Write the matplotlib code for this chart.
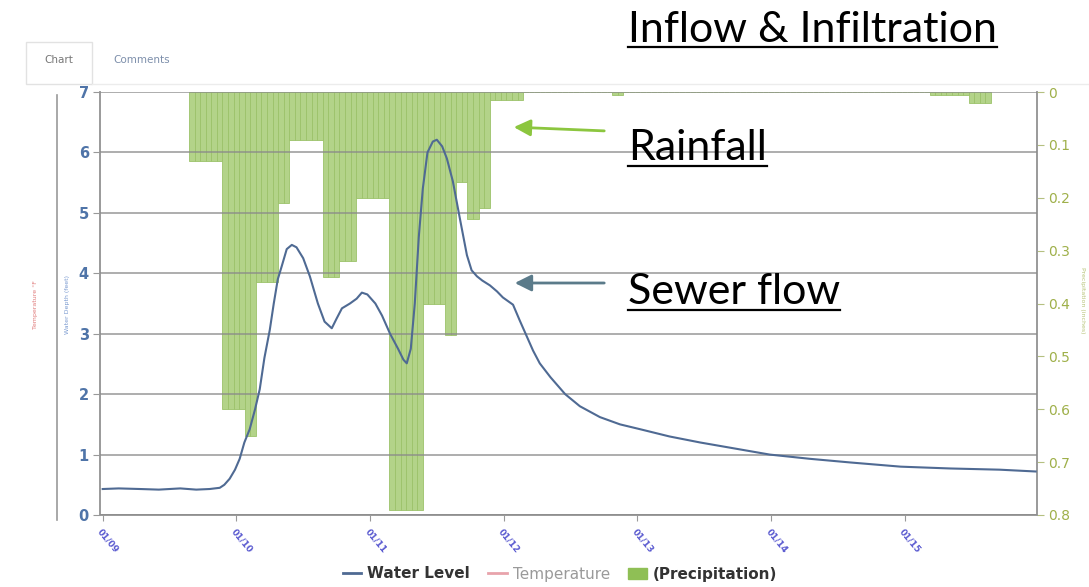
import numpy as np
import matplotlib
matplotlib.use("Agg")
import matplotlib.pyplot as plt
from matplotlib.lines import Line2D
from matplotlib.patches import Patch, Rectangle, FancyArrowPatch

# ---------------- data ----------------
day_labels = ["01/09", "01/10", "01/11", "01/12", "01/13", "01/14", "01/15"]

# water level (feet) vs time in days since 01/09 00:00
wl_day = [0.00, 0.12, 0.28, 0.42, 0.58, 0.70, 0.80, 0.876, 0.91, 0.95, 0.99,
          1.025, 1.06, 1.10, 1.14, 1.175, 1.21, 1.25, 1.28, 1.31, 1.34,
          1.377, 1.415, 1.45, 1.50, 1.55, 1.61, 1.66, 1.714, 1.75, 1.79,
          1.85, 1.90, 1.939, 1.98, 2.04, 2.09, 2.15, 2.21, 2.25, 2.275,
          2.305, 2.335, 2.365, 2.395, 2.43, 2.47, 2.50, 2.54, 2.575, 2.62,
          2.672, 2.725, 2.76, 2.80, 2.84, 2.897, 2.95, 2.994, 3.07, 3.12,
          3.174, 3.22, 3.27, 3.35, 3.46, 3.57, 3.72, 3.87, 4.02, 4.24,
          4.47, 4.73, 4.99, 5.29, 5.59, 5.97, 6.34, 6.71, 6.98]
wl_ft = [0.43, 0.44, 0.43, 0.42, 0.44, 0.42, 0.43, 0.45, 0.50, 0.60, 0.75,
         0.93, 1.20, 1.42, 1.75, 2.08, 2.60, 3.06, 3.50, 3.90, 4.12,
         4.40, 4.47, 4.43, 4.25, 3.95, 3.50, 3.20, 3.09, 3.25, 3.42,
         3.50, 3.58, 3.68, 3.65, 3.50, 3.30, 3.00, 2.75, 2.57, 2.51,
         2.75, 3.50, 4.60, 5.40, 6.00, 6.18, 6.21, 6.10, 5.90, 5.52,
         4.91, 4.30, 4.05, 3.95, 3.88, 3.80, 3.70, 3.60, 3.48, 3.22,
         2.95, 2.72, 2.51, 2.28, 2.00, 1.80, 1.62, 1.50, 1.42, 1.30,
         1.20, 1.10, 1.00, 0.93, 0.87, 0.80, 0.77, 0.75, 0.72]

# hourly precipitation (inches), first bar starts at hour 15.5 of 01/09
rain_start_hour = 15.5
rain_in = [0.13, 0.13, 0.13, 0.13, 0.13, 0.13,
           0.60, 0.60, 0.60, 0.60, 0.65, 0.65,
           0.36, 0.36, 0.36, 0.36, 0.21, 0.21,
           0.09, 0.09, 0.09, 0.09, 0.09, 0.09,
           0.35, 0.35, 0.35, 0.32, 0.32, 0.32,
           0.20, 0.20, 0.20, 0.20, 0.20, 0.20,
           0.79, 0.79, 0.79, 0.79, 0.79, 0.79,
           0.40, 0.40, 0.40, 0.40, 0.46, 0.46,
           0.17, 0.17, 0.24, 0.24, 0.22, 0.22,
           0.015, 0.015, 0.015, 0.015, 0.015, 0.015,
           0, 0, 0, 0, 0, 0, 0, 0, 0, 0, 0, 0, 0, 0, 0, 0,
           0.006, 0.006,
           0, 0, 0, 0, 0, 0, 0, 0, 0, 0, 0, 0, 0, 0, 0, 0, 0, 0, 0, 0,
           0, 0, 0, 0, 0, 0, 0, 0, 0, 0, 0, 0, 0, 0, 0, 0, 0, 0, 0, 0,
           0, 0, 0, 0, 0, 0, 0, 0, 0, 0, 0, 0, 0, 0, 0,
           0.006, 0.006, 0.006, 0.006, 0.006, 0.006, 0.006,
           0.02, 0.02, 0.02, 0.02]

left_ticks = [0, 1, 2, 3, 4, 5, 6, 7]
right_ticks = [0, 0.1, 0.2, 0.3, 0.4, 0.5, 0.6, 0.7, 0.8]
right_tick_labels = ["0", "0.1", "0.2", "0.3", "0.4", "0.5", "0.6", "0.7", "0.8"]

# ---------------- figure ----------------
W, H = 1089, 587
fig = plt.figure(figsize=(W / 100, H / 100), dpi=100)
fig.patch.set_facecolor("white")

def fx(px):
    return px / W

def fy(py):
    return 1 - py / H

L, R, T, B = 100, 1037, 92, 515
ax = fig.add_axes([fx(L), fy(B), fx(R) - fx(L), fy(T) - fy(B)])
ax2 = ax.twinx()
ax.set_zorder(ax2.get_zorder() + 1)
ax.patch.set_visible(False)

# precipitation bars (hang from top on inverted axis)
rain_x = (rain_start_hour + np.arange(len(rain_in))) / 24.0
ax2.bar(rain_x, rain_in, width=1 / 24.0, align="edge", bottom=0,
        color="#b3d389", edgecolor="#9cc26a", linewidth=0.6, zorder=2)
ax2.set_ylim(0.8, 0)
ax2.set_yticks(right_ticks)
ax2.set_yticklabels(right_tick_labels)
ax2.tick_params(axis="y", colors="#b5c080", labelcolor="#9fb04a",
                labelsize=10, length=5, pad=3)

# water level line
ax.plot(wl_day, wl_ft, color="#4f6a93", lw=1.5, zorder=5)
ax.set_xlim(-0.02, 6.99)
ax.set_ylim(0, 7)
ax.set_yticks(left_ticks)
ax.tick_params(axis="y", colors="#999999", labelcolor="#4f74a8",
               labelsize=10.5, length=5, pad=3)
for t in ax.get_yticklabels():
    t.set_fontweight("bold")
ax.set_xticks(range(len(day_labels)))
ax.set_xticklabels(day_labels, rotation=-50, ha="left", va="top",
                   rotation_mode="anchor", fontsize=6.5, fontweight="bold")
ax.tick_params(axis="x", colors="#999999", length=4, pad=5)
for t in ax.get_xticklabels():
    t.set_color("#5a5ad0")

ax.yaxis.grid(True, color="#8a8a8a", lw=1.3, alpha=0.75, zorder=3)
ax.set_axisbelow(False)
for a in (ax, ax2):
    for s in a.spines.values():
        s.set_color("#9a9a9a")
        s.set_linewidth(1.2)
    a.spines["top"].set_visible(False)

# axis labels (tiny)
fig.text(fx(67), fy(305), "Water Depth (feet)", rotation=90, ha="center",
         va="center", fontsize=4.5, color="#7a9ad0")
fig.text(fx(35), fy(305), "Temperature °F", rotation=90, ha="center",
         va="center", fontsize=4.5, color="#e07b7b")
fig.add_artist(Line2D([fx(57), fx(57)], [fy(95), fy(520)], color="#9a9a9a", lw=1.2))
fig.text(fx(1083), fy(300), "Precipitation (inches)", rotation=270, ha="center",
         va="center", fontsize=4.5, color="#b8c47a")

# tabs
fig.add_artist(Rectangle((fx(26), fy(84)), fx(92) - fx(26), fy(42) - fy(84),
                         fill=False, edgecolor="#e2e2e2", lw=1))
fig.add_artist(Line2D([fx(92), fx(1089)], [fy(84), fy(84)], color="#ececec", lw=1))
fig.text(fx(59), fy(60), "Chart", ha="center", va="center", fontsize=7.5, color="#777777")
fig.text(fx(142), fy(60), "Comments", ha="center", va="center", fontsize=7.5, color="#7d8fab")

# legend
handles = [Line2D([], [], color="#4f6a93", lw=2),
           Line2D([], [], color="#e8a3ab", lw=2),
           Patch(facecolor="#8fbf55", edgecolor="#8fbf55")]
leg = fig.legend(handles, ["Water Level", "Temperature", "(Precipitation)"],
                 loc="center", bbox_to_anchor=(fx(560), fy(574)), ncol=3,
                 frameon=False, fontsize=11, handlelength=1.2, handletextpad=0.4,
                 columnspacing=1.2)
cols = ["#333333", "#9a9a9a", "#333333"]
wts = ["bold", "normal", "bold"]
for t, c, w in zip(leg.get_texts(), cols, wts):
    t.set_color(c)
    t.set_fontweight(w)

# annotations with underlines
def place(px, py, s, size):
    return fig.text(fx(px), fy(py), s, ha="left", va="baseline", fontsize=size,
                    family="Lato", color="black")

t1 = place(628, 42, "Inflow & Infiltration", 31)
t2 = place(628, 160, "Rainfall", 31)
t3 = place(628, 304, "Sewer flow", 31)

fig.canvas.draw()
rend = fig.canvas.get_renderer()
for t, py in ((t1, 47), (t2, 166), (t3, 310)):
    bb = t.get_window_extent(renderer=rend)
    fig.add_artist(Line2D([bb.x0 / W, bb.x1 / W], [fy(py), fy(py)],
                          color="black", lw=1.6))

fig.add_artist(FancyArrowPatch(
    (fx(607), fy(131)), (fx(511), fy(127)), transform=fig.transFigure,
    arrowstyle="-|>,head_length=10,head_width=5", color="#8cc63f", lw=2))
fig.add_artist(FancyArrowPatch(
    (fx(607), fy(283)), (fx(512), fy(283)), transform=fig.transFigure,
    arrowstyle="-|>,head_length=10,head_width=5", color="#5b7b8a", lw=2))

fig.savefig("out.png", dpi=100, facecolor="white")
